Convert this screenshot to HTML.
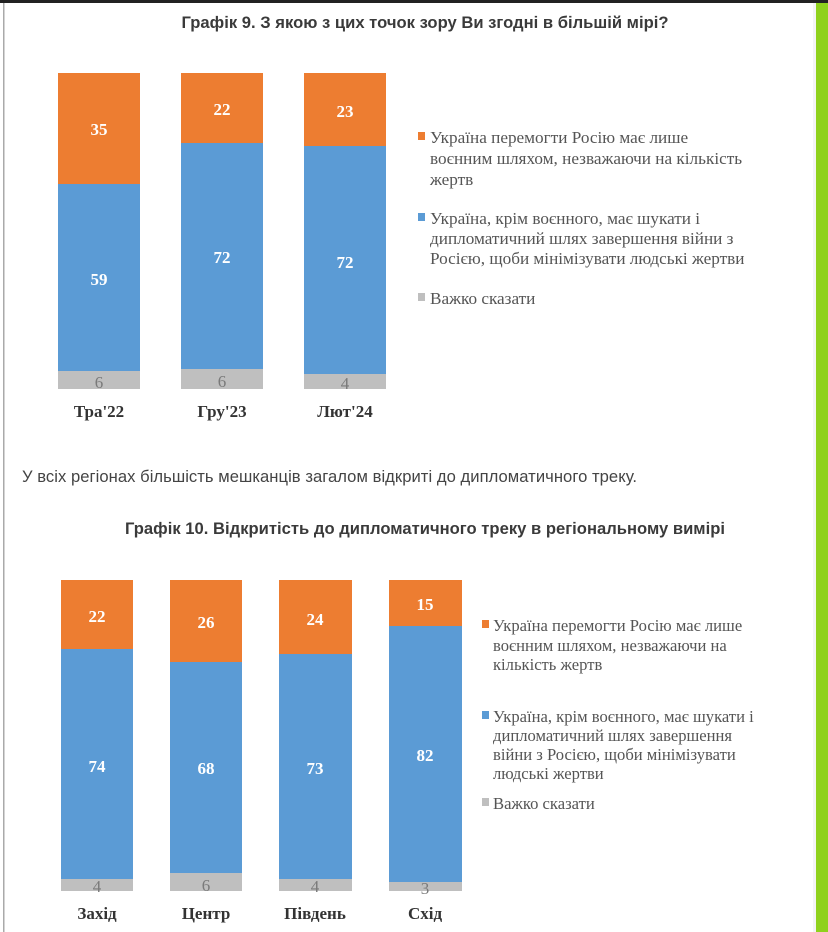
<!DOCTYPE html>
<html><head><meta charset="utf-8"><style>
html,body{margin:0;padding:0;background:#fff;}
svg{display:block;}
.t{font-family:"Liberation Sans",sans-serif;font-weight:bold;font-size:16.6px;fill:#3a3a3a;}
.l{font-family:"Liberation Serif",serif;font-size:17.2px;fill:#555;}
.l2{font-family:"Liberation Serif",serif;font-size:16.6px;fill:#555;}
.v{font-family:"Liberation Serif",serif;font-weight:bold;font-size:17px;fill:#fff;}
.g{font-family:"Liberation Serif",serif;font-size:17px;fill:#7a7a7a;}
.x{font-family:"Liberation Serif",serif;font-weight:bold;font-size:17px;fill:#333;}
</style></head><body>
<svg width="828" height="932" xmlns="http://www.w3.org/2000/svg">
<rect x="0" y="0" width="828" height="932" fill="#fff"/>
<rect x="0" y="0" width="828" height="3" fill="#222"/>
<rect x="3" y="3" width="1.5" height="929" fill="#aaa"/>
<rect x="816" y="3" width="12" height="929" fill="#8fd11c"/>
<rect x="813" y="3" width="3" height="929" fill="#f4f4f4"/>

<text class="t" x="425" y="28" text-anchor="middle" textLength="487">Графік 9. З якою з цих точок зору Ви згодні в більшій мірі?</text>

<!-- chart 1 -->
<rect x="58" y="73" width="82" height="111" fill="#ED7D31"/>
<rect x="58" y="184" width="82" height="187" fill="#5B9BD5"/>
<rect x="58" y="371" width="82" height="18" fill="#BFBFBF"/>
<rect x="181" y="73" width="82" height="70" fill="#ED7D31"/>
<rect x="181" y="143" width="82" height="226" fill="#5B9BD5"/>
<rect x="181" y="369" width="82" height="20" fill="#BFBFBF"/>
<rect x="304" y="73" width="82" height="73" fill="#ED7D31"/>
<rect x="304" y="146" width="82" height="228" fill="#5B9BD5"/>
<rect x="304" y="374" width="82" height="15" fill="#BFBFBF"/>
<text class="v" x="99" y="135" text-anchor="middle">35</text>
<text class="v" x="99" y="285" text-anchor="middle">59</text>
<text class="g" x="99" y="388" text-anchor="middle">6</text>
<text class="v" x="222" y="115" text-anchor="middle">22</text>
<text class="v" x="222" y="263" text-anchor="middle">72</text>
<text class="g" x="222" y="387" text-anchor="middle">6</text>
<text class="v" x="345" y="117" text-anchor="middle">23</text>
<text class="v" x="345" y="268" text-anchor="middle">72</text>
<text class="g" x="345" y="389" text-anchor="middle">4</text>
<text class="x" x="99" y="417" text-anchor="middle">Тра'22</text>
<text class="x" x="222" y="417" text-anchor="middle">Гру'23</text>
<text class="x" x="345" y="417" text-anchor="middle">Лют'24</text>

<rect x="418" y="132" width="7" height="8" fill="#ED7D31"/>
<text class="l" x="430" y="143">Україна перемогти Росію має лише</text>
<text class="l" x="430" y="164">воєнним шляхом, незважаючи на кількість</text>
<text class="l" x="430" y="185">жертв</text>
<rect x="418" y="213" width="7" height="8" fill="#5B9BD5"/>
<text class="l" x="430" y="224">Україна, крім воєнного, має шукати і</text>
<text class="l" x="430" y="244">дипломатичний шлях завершення війни з</text>
<text class="l" x="430" y="264">Росією, щоби мінімізувати людські жертви</text>
<rect x="418" y="293" width="7" height="8" fill="#BFBFBF"/>
<text class="l" x="430" y="304">Важко сказати</text>

<text x="22" y="482" font-family="Liberation Sans, sans-serif" font-size="16.6" fill="#444" textLength="615">У всіх регіонах більшість мешканців загалом відкриті до дипломатичного треку.</text>

<text class="t" x="425" y="534" text-anchor="middle" textLength="600">Графік 10. Відкритість до дипломатичного треку в регіональному вимірі</text>

<!-- chart 2 -->
<rect x="61" y="580" width="72" height="69" fill="#ED7D31"/>
<rect x="61" y="649" width="72" height="230" fill="#5B9BD5"/>
<rect x="61" y="879" width="72" height="12" fill="#BFBFBF"/>
<rect x="170" y="580" width="72" height="82" fill="#ED7D31"/>
<rect x="170" y="662" width="72" height="211" fill="#5B9BD5"/>
<rect x="170" y="873" width="72" height="18" fill="#BFBFBF"/>
<rect x="279" y="580" width="73" height="74" fill="#ED7D31"/>
<rect x="279" y="654" width="73" height="225" fill="#5B9BD5"/>
<rect x="279" y="879" width="73" height="12" fill="#BFBFBF"/>
<rect x="389" y="580" width="73" height="46" fill="#ED7D31"/>
<rect x="389" y="626" width="73" height="256" fill="#5B9BD5"/>
<rect x="389" y="882" width="73" height="9" fill="#BFBFBF"/>
<text class="v" x="97" y="622" text-anchor="middle">22</text>
<text class="v" x="97" y="772" text-anchor="middle">74</text>
<text class="g" x="97" y="892" text-anchor="middle">4</text>
<text class="v" x="206" y="628" text-anchor="middle">26</text>
<text class="v" x="206" y="774" text-anchor="middle">68</text>
<text class="g" x="206" y="891" text-anchor="middle">6</text>
<text class="v" x="315" y="625" text-anchor="middle">24</text>
<text class="v" x="315" y="774" text-anchor="middle">73</text>
<text class="g" x="315" y="892" text-anchor="middle">4</text>
<text class="v" x="425" y="610" text-anchor="middle">15</text>
<text class="v" x="425" y="761" text-anchor="middle">82</text>
<text class="g" x="425" y="894" text-anchor="middle">3</text>
<text class="x" x="97" y="919" text-anchor="middle">Захід</text>
<text class="x" x="206" y="919" text-anchor="middle">Центр</text>
<text class="x" x="315" y="919" text-anchor="middle">Південь</text>
<text class="x" x="425" y="919" text-anchor="middle">Схід</text>

<rect x="482" y="620" width="7" height="8" fill="#ED7D31"/>
<text class="l2" x="493" y="631">Україна перемогти Росію має лише</text>
<text class="l2" x="493" y="651">воєнним шляхом, незважаючи на</text>
<text class="l2" x="493" y="670">кількість жертв</text>
<rect x="482" y="711" width="7" height="8" fill="#5B9BD5"/>
<text class="l2" x="493" y="722">Україна, крім воєнного, має шукати і</text>
<text class="l2" x="493" y="741">дипломатичний шлях завершення</text>
<text class="l2" x="493" y="760">війни з Росією, щоби мінімізувати</text>
<text class="l2" x="493" y="779">людські жертви</text>
<rect x="482" y="798" width="7" height="8" fill="#BFBFBF"/>
<text class="l2" x="493" y="809">Важко сказати</text>
</svg>
</body></html>
